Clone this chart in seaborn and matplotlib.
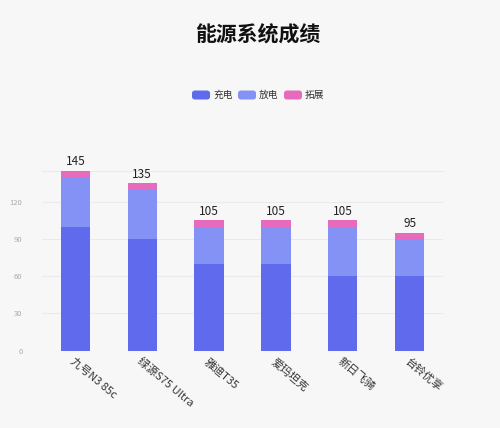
import matplotlib
matplotlib.use("Agg")
import matplotlib.pyplot as plt
import seaborn as sns
import pandas as pd
import numpy as np
from matplotlib.patches import FancyBboxPatch

categories = ["九号N3 85c", "绿源S75 Ultra", "雅迪T35", "爱玛坦克", "新日飞骑", "台铃优享"]
charge = [100, 90, 70, 70, 60, 60]
discharge = [40, 40, 30, 30, 40, 30]
extend = [5, 5, 5, 5, 5, 5]
series_names = ["充电", "放电", "拓展"]
colors = ["#5f6bec", "#8592f5", "#e66bbd"]
yticks = [0, 30, 60, 90, 120]

sns.set_theme(style="white")
plt.rcParams['font.family'] = ['Noto Sans CJK SC', 'DejaVu Sans']

df = pd.DataFrame({"cat": categories, "charge": charge, "discharge": discharge, "extend": extend})
df["lvl2"] = df["charge"] + df["discharge"]
df["total"] = df["lvl2"] + df["extend"]

bg = "#f7f7f7"
fig = plt.figure(figsize=(5, 4.28), dpi=100, facecolor=bg)
ax = fig.add_axes([0.084, 0.1806, 0.802, 0.4204])
ax.set_facecolor(bg)

for col, c in zip(["total", "lvl2", "charge"], [colors[2], colors[1], colors[0]]):
    sns.barplot(data=df, x="cat", y=col, color=c, width=0.44, ax=ax,
                saturation=1, linewidth=0, zorder=3)

for i, t in enumerate(df["total"]):
    ax.text(i, t + 2, str(t), ha="center", va="bottom", fontsize=8.5, color="#222222")

ax.set_ylim(0, 145)
ax.set_xlim(-0.5, len(categories) - 0.5)
ax.set_yticks(yticks)
ax.set_yticklabels([str(v) for v in yticks], fontsize=5.5, color="#aaaaaa")
ax.tick_params(axis="y", length=0, pad=14)
ax.tick_params(axis="x", length=0, pad=4)
ax.set_xticks(range(len(categories)))
ax.set_xticklabels(categories, rotation=-40, ha="left", rotation_mode="anchor",
                   fontsize=8, color="#333333")
ax.set_xlabel("")
ax.set_ylabel("")
ax.grid(axis="y", color="#e9e9ee", linewidth=0.8, zorder=0)
for s in ["left", "right", "bottom"]:
    ax.spines[s].set_visible(False)
ax.spines["top"].set_color("#e9e9ee")
ax.spines["top"].set_linewidth(0.8)

fig.text(0.515, 0.918, "能源系统成绩", ha="center", va="center", fontsize=15,
         fontweight="bold", color="#111111")

# legend
box_w, box_h = 18 / 500, 9 / 428
starts = [192, 238, 284]
ly = 1 - 95 / 428
for x0, name, c in zip(starts, series_names, colors):
    p = FancyBboxPatch((x0 / 500, ly - box_h / 2), box_w, box_h,
                       boxstyle="round,pad=0,rounding_size=0.006",
                       transform=fig.transFigure, facecolor=c, edgecolor="none")
    fig.patches.append(p)
    fig.text((x0 + 21) / 500, ly, name, ha="left", va="center", fontsize=7, color="#333333")

fig.savefig("out.png", dpi=100, facecolor=bg)
